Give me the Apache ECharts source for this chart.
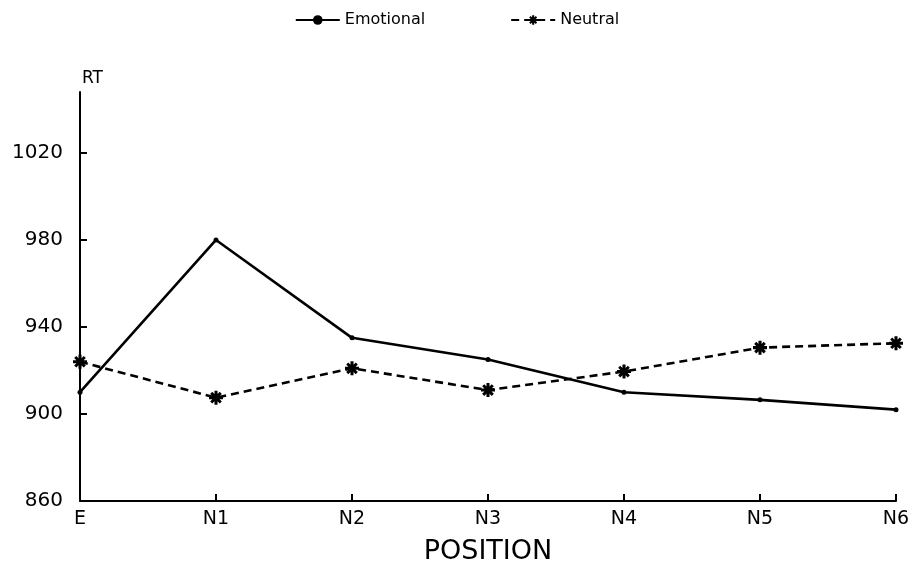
<!DOCTYPE html>
<html>
<head>
<meta charset="utf-8">
<script src="https://cdn.jsdelivr.net/npm/echarts@6/dist/echarts.min.js"></script>
<style>
  html, body { margin: 0; padding: 0; background: #fff; }
  #chart { width: 914px; height: 581px; }
</style>
</head>
<body>
<div id="chart"></div>
<script>
// data
var positions = ["E", "N1", "N2", "N3", "N4", "N5", "N6"];
var emotional = [910, 980, 935, 925, 910, 906.5, 902];
var neutral = [924, 907.5, 921, 911, 919.5, 930.5, 932.5];
var yTicks = [860, 900, 940, 980, 1020];

// asterisk marker (all bars wound the same way so they fill solid)
var star = "path://M-1.3,-6L1.3,-6L1.3,6L-1.3,6Z M-6,-1.3L6,-1.3L6,1.3L-6,1.3Z " +
  "M-3.2,-5L5,3.2L3.2,5L-5,-3.2Z M3.2,-5L5,-3.2L-3.2,5L-5,3.2Z";

var font = "DejaVu Sans";
var myChart = echarts.init(document.getElementById("chart"));
var option = {
  animation: false,
  backgroundColor: "#fff",
  textStyle: { fontFamily: font, color: "#000" },
  legend: {
    top: 7,
    left: "center",
    itemWidth: 44,
    itemHeight: 12,
    itemGap: 85,
    textStyle: { fontSize: 16, color: "#000", fontFamily: font },
    data: ["Emotional", "Neutral"]
  },
  grid: { left: 80, right: 18, top: 92, bottom: 80 },
  xAxis: {
    type: "category",
    data: positions,
    boundaryGap: false,
    name: "POSITION",
    nameLocation: "middle",
    nameGap: 37,
    nameTextStyle: { fontSize: 27, color: "#000", fontFamily: font },
    axisLine: { lineStyle: { color: "#000", width: 2 } },
    axisTick: { inside: true, length: 7, lineStyle: { color: "#000", width: 2 } },
    axisLabel: { fontSize: 19, color: "#000", margin: 9 },
    splitLine: { show: false }
  },
  yAxis: {
    type: "value",
    min: 860,
    max: 1048,
    name: "RT",
    nameLocation: "end",
    nameGap: 5,
    nameTextStyle: { fontSize: 17, color: "#000", align: "left", padding: [0, 0, 0, 2] },
    axisLine: { show: true, lineStyle: { color: "#000", width: 2 } },
    axisTick: { show: true, inside: true, length: 7, customValues: yTicks, lineStyle: { color: "#000", width: 2 } },
    axisLabel: {
      fontSize: 20, color: "#000", margin: 17, customValues: yTicks,
      formatter: function (v) { return String(v); }
    },
    splitLine: { show: false }
  },
  series: [
    {
      name: "Emotional",
      type: "line",
      data: emotional,
      symbol: "circle",
      symbolSize: 5,
      itemStyle: { color: "#000" },
      lineStyle: { color: "#000", width: 2.6 }
    },
    {
      name: "Neutral",
      type: "line",
      data: neutral,
      symbol: star,
      symbolSize: 14,
      itemStyle: { color: "#000" },
      lineStyle: { color: "#000", width: 2.6, type: [8, 5] }
    }
  ]
};
option && myChart.setOption(option);
</script>
</body>
</html>
